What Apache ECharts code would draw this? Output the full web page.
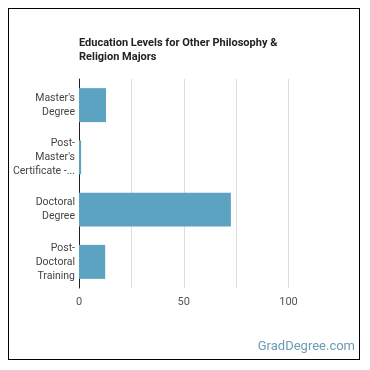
<!DOCTYPE html>
<html><head><meta charset="utf-8">
<script src="https://cdn.jsdelivr.net/npm/echarts@6/dist/echarts.min.js"></script>
<style>html,body{margin:0;padding:0;background:#fff}#c{width:370px;height:370px}
#frame{position:absolute;left:8px;top:8px;width:350px;height:350px;border:1px solid #000;pointer-events:none}</style>
</head><body><div id="c"></div><div id="frame"></div>
<script>
const categories = ["Master's\nDegree", "Post-\nMaster's\nCertificate -...", "Doctoral\nDegree", "Post-\nDoctoral\nTraining"];
const values = [12.9, 1, 72.5, 12.5];
const xTicks = [0, 50, 100];

const chart = echarts.init(document.getElementById('c'));
chart.setOption({
  animation: false,
  title: {
    text: "Education Levels for Other Philosophy &\nReligion Majors",
    left: 74, top: 31,
    textStyle: {fontFamily: 'Roboto', fontSize: 11, fontWeight: 'bold', color: '#222', lineHeight: 14}
  },
  graphic: [{
    type: 'text', right: 15, top: 340,
    style: {text: 'GradDegree.com', font: '13px Roboto', fill: '#6b9bb6'}
  }],
  grid: {left: 79, right: 81.5, top: 79, bottom: 82},
  xAxis: {
    type: 'value', min: 0, max: 100, interval: 25,
    axisLine: {show: false}, axisTick: {show: false},
    splitLine: {lineStyle: {color: '#ddd', width: 1}},
    axisLabel: {
      margin: 9, color: '#555', fontFamily: 'Roboto', fontSize: 11,
      formatter: v => xTicks.includes(v) ? String(v) : ''
    }
  },
  yAxis: {
    type: 'category', data: categories, inverse: true,
    axisLine: {lineStyle: {color: '#222', width: 1}},
    axisTick: {show: false},
    axisLabel: {color: '#444', fontFamily: 'Roboto', fontSize: 10.5, lineHeight: 14, margin: 4, align: 'right'}
  },
  series: [{
    type: 'bar', data: values, barCategoryGap: '35%',
    itemStyle: {color: '#5ba3c0'}
  }]
});
</script></body></html>
